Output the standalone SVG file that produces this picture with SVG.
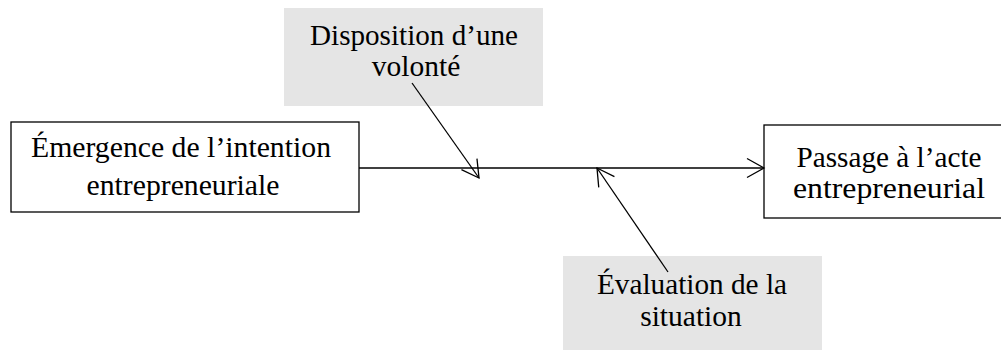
<svg xmlns="http://www.w3.org/2000/svg" width="1001" height="351" viewBox="0 0 1001 351">
<style>
.box{fill:#fff;stroke:#000;stroke-width:1.3}
.gray{fill:#e5e5e5;stroke:none}
text{font-family:"Liberation Serif","Times New Roman",serif;font-size:29.5px;fill:#000;text-anchor:middle}
.conn{stroke:#000;stroke-width:1.3;fill:none}
</style>
<defs>
<marker id="arr" markerUnits="userSpaceOnUse" markerWidth="30" markerHeight="30" refX="0" refY="0" viewBox="-20 -15 25 30" orient="auto" overflow="visible">
<path d="M-17,-9.5 L0,0 L-17,9.5" fill="none" stroke="#000" stroke-width="1.3"/>
</marker>
</defs>
<g id="n1">
<rect class="box" x="11" y="122" width="348" height="90"/>
<text x="181" y="157" textLength="300" lengthAdjust="spacingAndGlyphs">Émergence de l’intention</text>
<text x="183" y="195" textLength="193" lengthAdjust="spacingAndGlyphs">entrepreneuriale</text>
</g>
<g id="n2">
<rect class="box" x="764" y="125" width="250" height="93"/>
<text x="889" y="167" textLength="185" lengthAdjust="spacingAndGlyphs">Passage à l’acte</text>
<text x="889" y="198" textLength="192" lengthAdjust="spacingAndGlyphs">entrepreneurial</text>
</g>
<g id="n3">
<rect class="gray" x="284" y="8" width="259" height="98"/>
<text x="414" y="45" textLength="208" lengthAdjust="spacingAndGlyphs">Disposition d’une</text>
<text x="416" y="76">volonté</text>
</g>
<g id="n4">
<rect class="gray" x="563" y="256" width="259" height="94"/>
<text x="692" y="294" textLength="190" lengthAdjust="spacingAndGlyphs">Évaluation de la</text>
<text x="691" y="326">situation</text>
</g>
<g id="connectors">
<line class="conn" x1="359" y1="168" x2="764" y2="168" marker-end="url(#arr)"/>
<line class="conn" x1="412" y1="83" x2="479" y2="178" marker-end="url(#arr)"/>
<line class="conn" x1="668" y1="272" x2="597" y2="168" marker-end="url(#arr)"/>
</g>
</svg>
